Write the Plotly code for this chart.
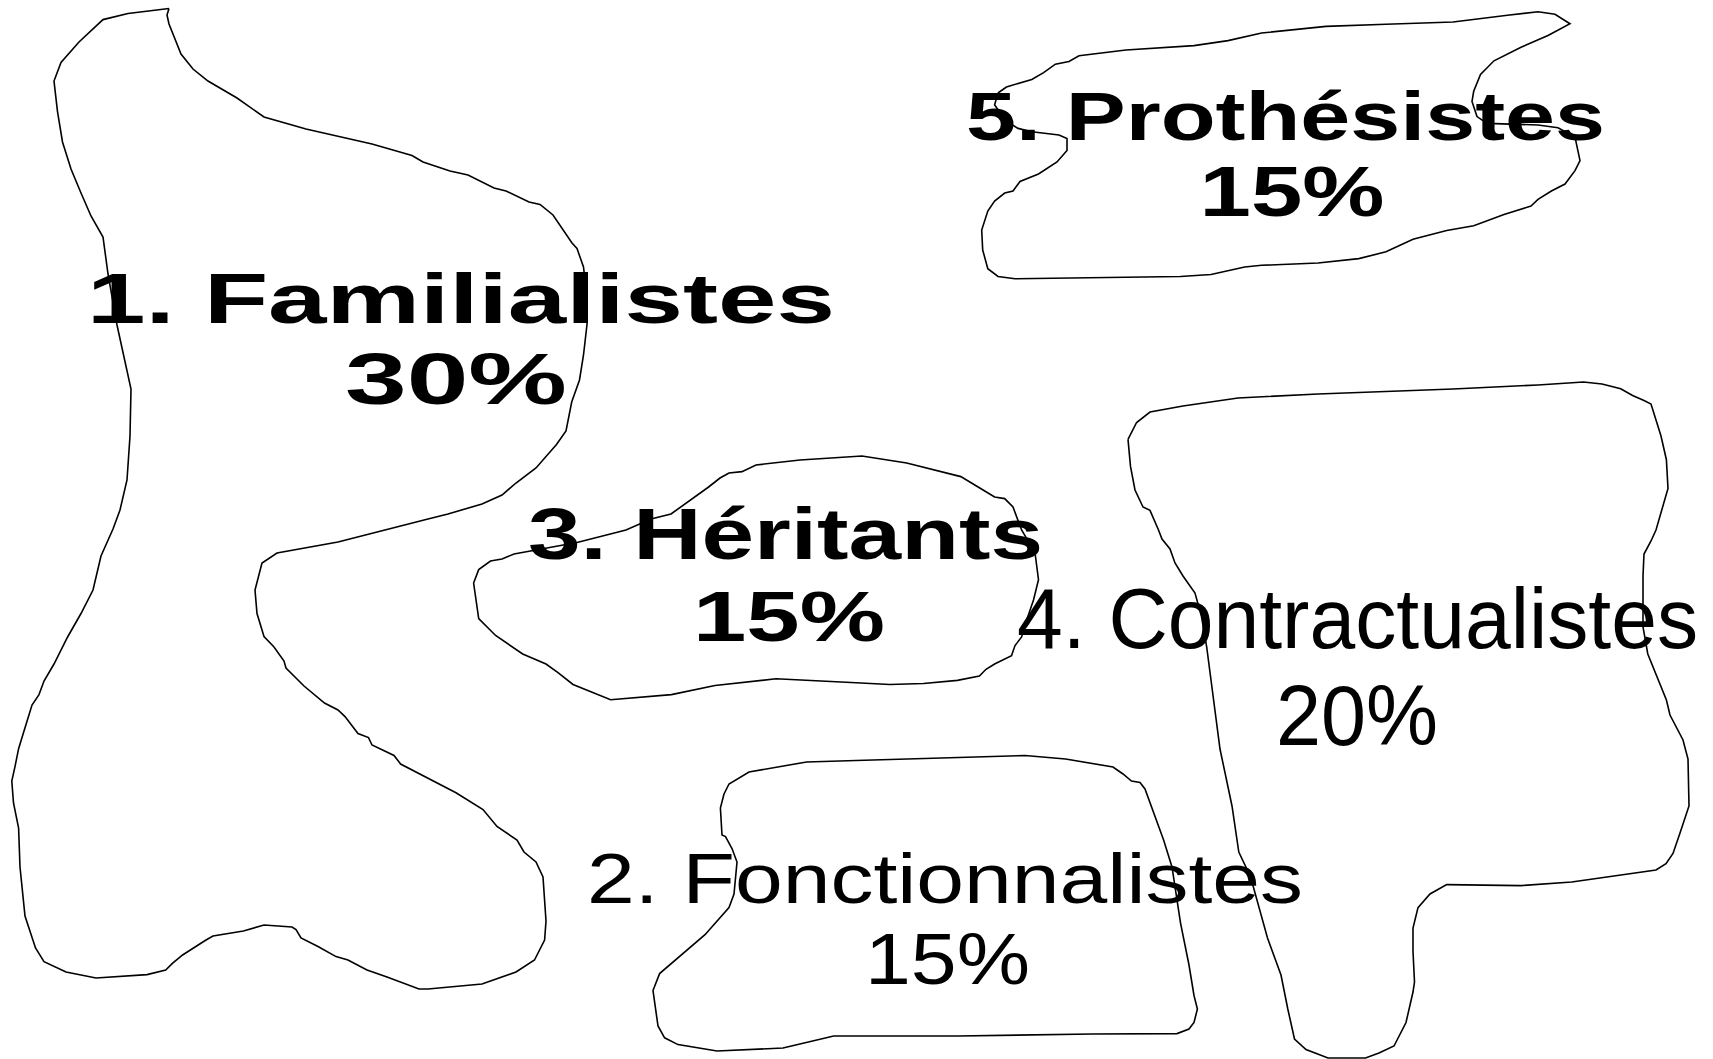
import json
import plotly.graph_objects as go

# ---------------- data ----------------
categories = ["1. Familialistes", "2. Fonctionnalistes", "3. Héritants",
              "4. Contractualistes", "5. Prothésistes"]
shares = [30, 15, 15, 20, 15]

# hand-drawn outlines (canvas units, y downwards)
familialistes_x = [169, 167, 169, 174, 181, 193, 208, 237, 264, 306, 372, 412, 423, 450, 468, 494, 506, 529, 540, 553, 565, 572, 577, 583.5, 587, 587, 583.5, 579.5, 571.7, 566, 556.5, 536, 516, 502, 482, 448, 428, 389, 338, 277, 262, 255, 257, 264, 274, 284, 286, 304, 324.5, 338, 345, 358, 368.5, 372, 394, 400.6, 433, 456, 483, 497, 517, 524, 536, 543, 546, 544.6, 534.5, 516, 482, 428, 419, 405.7, 387, 367, 348, 336, 318, 301, 296, 292, 264, 243.4, 213, 206, 182.6, 172.4, 165.7, 147, 96, 66, 44, 35.5, 25, 20, 18.6, 13.5, 11.8, 15.2, 18.6, 23.7, 32, 39, 44, 54, 67.6, 81, 93, 101, 113, 120, 127, 130, 131, 117, 108, 103, 91, 81, 71, 62.5, 57.5, 54, 61, 79, 103, 128, 169]
familialistes_y = [8.5, 15, 24, 37, 54, 69, 81, 98, 117, 129, 144, 155.5, 162, 171, 175, 188, 191, 202, 204.5, 215, 233, 243, 248.5, 267, 297.5, 324.5, 355, 380, 402, 431, 444.5, 468, 483, 495, 504, 514, 519, 529, 542, 553, 563, 590, 613.5, 636.5, 647, 661, 668, 686, 703, 710, 716.6, 733.5, 737.6, 745, 755.5, 764, 781, 792.7, 809.6, 826.5, 840, 852, 862, 877, 921, 940, 960, 972, 984, 989, 989, 983.7, 977, 970, 960, 956.6, 946.5, 938, 929.6, 927, 925, 931, 936, 940, 955, 963.4, 970, 974.6, 978, 972, 961.7, 948, 916, 867, 828, 803, 781, 765.6, 748.7, 732, 705, 694.6, 681, 664, 637, 613.5, 590, 556, 529, 510, 480, 436, 389, 325, 274, 237, 216, 193, 169, 142, 111.6, 81, 62.5, 42, 19.6, 13.5, 8.5]

fonctionnalistes_x = [724, 729, 749, 806.6, 856, 940.5, 1025, 1065.6, 1113, 1123, 1131.5, 1140, 1145, 1163.6, 1172, 1180.5, 1189, 1194, 1197.4, 1194, 1189, 1177, 1092.6, 958, 856, 833.7, 783, 717, 678, 664.6, 658, 653, 659.6, 685, 705, 729, 734, 737, 732, 725.5, 722, 720.4, 724]
fonctionnalistes_y = [794, 784, 772, 762, 760.5, 758, 755.5, 759, 767, 774, 781, 782.5, 789, 840, 867, 922.8, 965, 995.5, 1009, 1022.5, 1029, 1033.6, 1034, 1036, 1036, 1036, 1048, 1051, 1044.6, 1037.8, 1026, 990.5, 973.6, 951.6, 934.7, 907.6, 894, 862, 848.5, 836.6, 835, 808, 794]

heritants_x = [473.6, 478.7, 490.5, 502, 514, 531, 577, 626, 651, 671, 685, 708.6, 720, 729, 742, 756, 800, 862, 906.7, 960.8, 977.7, 994.6, 1004.7, 1013, 1021.6, 1035, 1038.5, 1033.5, 1026.7, 1021.6, 1015, 1011.5, 994.6, 986, 979.4, 957.4, 923.6, 889.8, 856, 776, 715, 671.4, 610.6, 573, 558, 546, 522.7, 495.6, 478.7, 473.6]
heritants_y = [583, 569.6, 561, 559, 554, 551, 542.5, 530, 519, 514, 504, 487, 478, 473, 471.6, 465, 460, 456, 463, 476.6, 486.7, 497, 498.6, 507, 530, 552.7, 579.7, 600, 620, 637, 645.6, 655.7, 664, 669.3, 676, 680.4, 683.5, 684.5, 682.8, 678.8, 685.5, 694.6, 699.7, 684.5, 672.7, 664, 654, 635.5, 618.6, 583]

contractualistes_x = [1128, 1136.6, 1150, 1183, 1238, 1318, 1453, 1538, 1583.5, 1602, 1620.7, 1632.6, 1644, 1651, 1661, 1666.4, 1668, 1656, 1651, 1644, 1643, 1643, 1647.8, 1654.6, 1666.4, 1670, 1683, 1688, 1689, 1689, 1680, 1673, 1666, 1656, 1571.7, 1521, 1446.7, 1430, 1418, 1413, 1413, 1414.5, 1413, 1406, 1394, 1379, 1365.5, 1328, 1306, 1294.5, 1287.8, 1281, 1267.5, 1255.7, 1250.6, 1238.8, 1233.7, 1232, 1220, 1211.7, 1206.7, 1201.6, 1195, 1183, 1175, 1170, 1162, 1158.5, 1150, 1143, 1135, 1130.5, 1128]
contractualistes_y = [439.4, 422.5, 412, 406, 398, 394, 389, 385, 382, 384, 388.7, 395.5, 400.5, 404, 436, 459.7, 488.4, 530, 541, 554, 576, 627, 654, 671, 700, 715, 740, 759, 792.6, 806, 833, 853.5, 863.6, 870, 882, 885.6, 884.6, 894, 907.6, 928, 951.5, 982, 992, 1022.5, 1046, 1053, 1058, 1058, 1049.5, 1039, 1009, 975, 938, 897, 877, 852, 816, 806, 749, 688, 647, 617, 593, 576, 563, 549, 539, 530, 510.4, 507, 490, 466.4, 439.4]

prothesistes_x = [998, 1006.4, 1031.8, 1043.6, 1055.4, 1069, 1079, 1126, 1194, 1228, 1261.6, 1305.6, 1326, 1386, 1453, 1507.5, 1538, 1555, 1570, 1548, 1521, 1494, 1480.5, 1473.7, 1472, 1477, 1487, 1538, 1558, 1575, 1580, 1575, 1565, 1551.4, 1538, 1531, 1504, 1473.7, 1446.7, 1413, 1386, 1358.8, 1318, 1261.6, 1244.7, 1211, 1180.5, 1015, 998, 987.8, 982.7, 981.7, 987.8, 994.6, 1004.7, 1013, 1020, 1038.5, 1057, 1067, 1067, 1059, 1031.8, 1018, 1004.7, 994.6, 998]
prothesistes_y = [93, 87, 79.4, 72.7, 64.2, 61.5, 55.8, 50, 45.6, 40.6, 33, 28.7, 26.4, 24.3, 22, 15.2, 11.8, 14.2, 23.7, 35.5, 47.3, 60.8, 74.4, 91.3, 101.4, 116.6, 123.4, 125, 127.8, 137, 160.6, 170.7, 184, 191, 199.4, 206, 214.6, 225.8, 230.5, 239.3, 251.8, 258.6, 263, 265.3, 267, 274.5, 276.5, 278.8, 276.5, 268.7, 250, 230, 211, 201, 193, 191, 181.5, 174, 162, 150.4, 138.6, 135, 131.8, 128.4, 120, 104.8, 93]

outlines_x = [familialistes_x, fonctionnalistes_x, heritants_x, contractualistes_x, prothesistes_x]
outlines_y = [familialistes_y, fonctionnalistes_y, heritants_y, contractualistes_y, prothesistes_y]

# ---------------- label layout ----------------
name_cx = [461, 945, 785.5, 1357.5, 1285.5]
name_base = [323, 902.5, 559.4, 648, 140]
name_size = [71, 70.5, 72.5, 85, 68.5]
name_width = [748, 716, 515, 681, 639]
pct_cx = [456, 947.5, 789, 1357, 1292]
pct_base = [404, 983.6, 640.5, 745, 216]
pct_size = [72, 73, 70.5, 84.5, 70]
pct_width = [222, 165, 192, 162, 185]
label_bold = [True, False, True, False, True]

W, H = 1713, 1059
FONT = "Liberation Sans, Arial, Helvetica, sans-serif"

fig = go.Figure()
for cat, ox, oy in zip(categories, outlines_x, outlines_y):
    fig.add_trace(go.Scatter(x=ox, y=oy, mode="lines", name=cat,
                             line=dict(color="#000000", width=1.6),
                             hoverinfo="skip", showlegend=False))

widths_in_dom = []
for bold in (True, False):
    txt, tx, ty, ts = [], [], [], []
    for i, cat in enumerate(categories):
        if label_bold[i] != bold:
            continue
        txt += [cat, f"{shares[i]}%"]
        tx += [name_cx[i], pct_cx[i]]
        # plotly places the baseline of 'middle center' text 0.25*size below the point
        ty += [name_base[i] - 0.25 * name_size[i], pct_base[i] - 0.25 * pct_size[i]]
        ts += [name_size[i], pct_size[i]]
        widths_in_dom += [name_width[i], pct_width[i]]
    fig.add_trace(go.Scatter(x=tx, y=ty, mode="text", text=txt,
                             textposition="middle center",
                             textfont=dict(family=FONT, size=ts, color="#000000",
                                           weight="bold" if bold else "normal"),
                             hoverinfo="skip", showlegend=False))

fig.update_layout(
    width=W, height=H, autosize=False,
    margin=dict(l=0, r=0, t=0, b=0, pad=0),
    paper_bgcolor="white", plot_bgcolor="white",
    xaxis=dict(range=[0, W], visible=False, showgrid=False, zeroline=False),
    yaxis=dict(range=[H, 0], visible=False, showgrid=False, zeroline=False),
)

post = """
document.body.style.margin = '0';
document.body.style.overflow = 'hidden';
var gd = document.getElementById('{plot_id}');
var widths = %s;
function stretch() {
  var texts = gd.querySelectorAll('g.textpoint text');
  texts.forEach(function(t, i) {
    if (i < widths.length) {
      t.setAttribute('textLength', widths[i]);
      t.setAttribute('lengthAdjust', 'spacingAndGlyphs');
    }
  });
}
stretch();
gd.on('plotly_afterplot', stretch);
""" % json.dumps(widths_in_dom)

fig.write_html("out.html", include_plotlyjs=True, full_html=True,
               config={"staticPlot": True, "displayModeBar": False},
               post_script=post)
